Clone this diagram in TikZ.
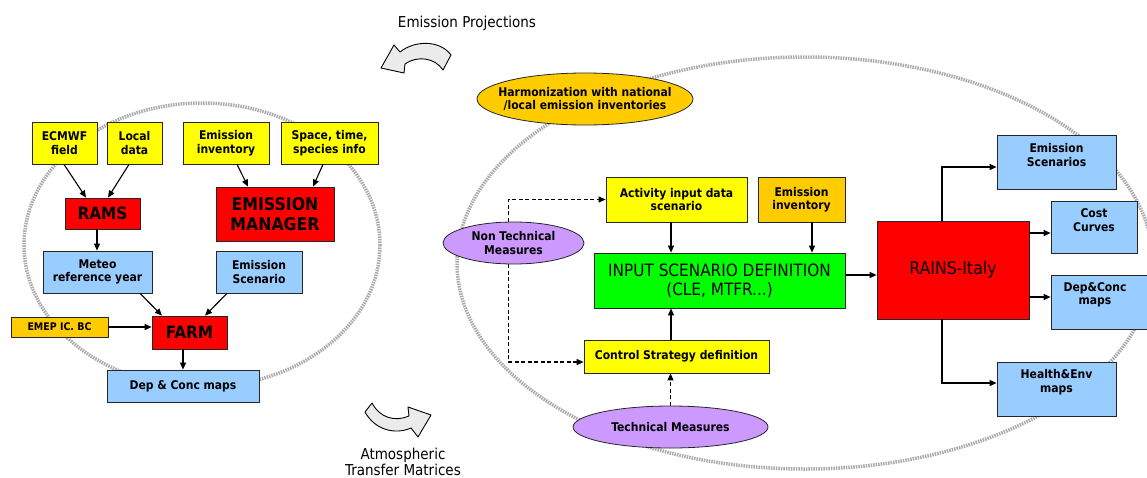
\documentclass[tikz,border=0pt]{standalone}
\usepackage{fontspec}
\setmainfont{DejaVu Sans Condensed}
\usetikzlibrary{arrows.meta,shapes.geometric,calc}
\definecolor{yel}{HTML}{FFFF00}
\definecolor{redb}{HTML}{FF0000}
\definecolor{blu}{HTML}{99CCFF}
\definecolor{gold}{HTML}{FFCC00}
\definecolor{grn}{HTML}{00FF00}
\definecolor{lil}{HTML}{CC99FF}
\begin{document}
\begin{tikzpicture}[x=1pt,y=-1pt,
  box/.style={draw=black!85, line width=0.8pt, inner sep=1pt, align=center, font=\fontsize{12}{13.5}\selectfont\bfseries},
  txt/.style={inner sep=0pt, align=center, font=\fontsize{12}{13.5}\selectfont\bfseries},
  ell/.style={ellipse, draw=black!85, line width=0.8pt, inner sep=0pt, align=center, font=\fontsize{12}{13.5}\selectfont\bfseries},
  big/.style={font=\fontsize{17}{20}\selectfont\bfseries},
  arr/.style={line width=1.1pt, -{Triangle[length=7pt,width=6pt]}},
  darr/.style={arr, dash pattern=on 4pt off 2.5pt},
  ring/.style={draw=black!33, line width=3.5pt, dash pattern=on 1.5pt off 1pt},
  bent/.style={draw=black, fill=black!8, line width=0.9pt, line join=round},
  lbl/.style={font=\fontsize{15}{16}\selectfont, align=center}
]
\useasboundingbox (0,0) rectangle (1147,477);
\fill[white] (0,0) rectangle (1147,477);

% rings
\draw[ring] (202,245) ellipse [x radius=178, y radius=142];
\draw[ring] (805,263) ellipse [x radius=348, y radius=206];

% curved arrows and labels
\node[lbl] (ep) at (467,23) {Emission Projections};
\draw[bent] (451,55) .. controls (440,40) and (415,40) .. (400,52) -- (394,45) -- (381,68) -- (404,73) -- (405,64) .. controls (418,55) and (435,58) .. (443,70) -- cycle;
\draw[bent] (365,412) .. controls (375,430) and (395,435) .. (411,428) -- (418,437) -- (431,415) -- (408,407) -- (409,416) .. controls (395,422) and (380,418) .. (372,403) -- cycle;
\node[lbl] (atm) at (403,462) {Atmospheric\\Transfer Matrices};

% left part
\node[box, fill=yel, minimum width=65, minimum height=42] (ecmwf) at (64.5,143) {ECMWF\\field};
\node[box, fill=yel, minimum width=55, minimum height=42] (local) at (134.5,143) {Local\\data};
\node[box, fill=yel, minimum width=86, minimum height=42] (einv) at (226,143) {Emission\\inventory};
\node[box, fill=yel, minimum width=97, minimum height=42] (space) at (329.5,143) {Space, time,\\species info};
\node[box, big, fill=redb, minimum width=75, minimum height=31] (rams) at (102.5,213.5) {RAMS};
\node[box, fill=redb, minimum width=118, minimum height=54, font=\fontsize{17.5}{20}\selectfont\bfseries] (em) at (275,214) {EMISSION\\MANAGER};
\node[box, fill=blu, minimum width=109, minimum height=42] (meteo) at (97.5,272) {Meteo\\reference year};
\node[box, fill=blu, minimum width=86, minimum height=42] (escen) at (259,272) {Emission\\Scenario};
\node[box, fill=gold, minimum width=97, minimum height=20, font=\fontsize{10.5}{12}\selectfont\bfseries] (emep) at (59.5,327) {EMEP IC. BC};
\node[box, big, fill=redb, minimum width=75, minimum height=33] (farm) at (189.5,332.5) {FARM};
\node[box, fill=blu, minimum width=152, minimum height=32] (dep) at (183,386) {Dep \& Conc maps};

\draw[arr] ([xshift=-0.5]ecmwf.south) -- ([xshift=-16.5]rams.north);
\draw[arr] ([xshift=-5.5]local.south) -- ([xshift=5.5]rams.north);
\draw[arr] ([xshift=11]einv.south) -- ([xshift=-27]em.north);
\draw[arr] ([xshift=-6.5]space.south) -- ([xshift=38]em.north);
\draw[arr] ([xshift=-5.5]rams.south) -- ([xshift=-0.5]meteo.north);
\draw[arr] ([xshift=42.5]meteo.south) -- ([xshift=-27.5]farm.north);
\draw[arr] ([xshift=-32]escen.south) -- ([xshift=15.5]farm.north);
\draw[arr] (emep.east) -- (emep.east -| farm.west);
\draw[arr] ([xshift=-6.5]farm.south) -- ([xshift=-6.5]farm.south |- dep.north);

% right part
\node[ell, fill=gold, minimum width=216, minimum height=52, inner xsep=-18pt] (harm) at (585,99) {Harmonization with national\\/local emission inventories};
\node[box, fill=yel, minimum width=141, minimum height=45] (act) at (676.5,199.5) {Activity input data\\scenario};
\node[box, fill=gold, minimum width=87, minimum height=45] (einv2) at (801.5,199.5) {Emission\\inventory};
\node[box, fill=grn, minimum width=251, minimum height=55, font=\fontsize{17}{19}\selectfont] (inp) at (719.5,280.5) {INPUT SCENARIO DEFINITION\\(CLE, MTFR...)};
\node[ell, fill=lil, minimum width=141, minimum height=42] (nt) at (513.5,243) {Non Technical\\Measures};
\node[box, fill=yel, minimum width=185, minimum height=33] (ctrl) at (676.5,356.5) {Control Strategy definition};
\node[ell, fill=lil, minimum width=195, minimum height=42] (tech) at (670.5,427) {Technical Measures};
\node[box, fill=redb, minimum width=152, minimum height=98, font=\fontsize{17.5}{20}\selectfont] (rains) at (953,270) {RAINS-Italy};
\node[box, fill=blu, minimum width=119, minimum height=54] (es2) at (1056.5,162) {};
\node[txt] (es2t) at ([yshift=7]es2.center) {Emission\\Scenarios};
\node[box, fill=blu, minimum width=86, minimum height=52] (cost) at (1094,227) {};
\node[txt] (costt) at ([yshift=7]cost.center) {Cost\\Curves};
\node[box, fill=blu, minimum width=98, minimum height=54] (depc) at (1100,302) {};
\node[txt] (depct) at ([yshift=7,xshift=-5]depc.center) {Dep\&Conc\\maps};
\node[box, fill=blu, minimum width=119, minimum height=54] (hea) at (1056.5,389) {};
\node[txt] (heat) at ([yshift=7]hea.center) {Health\&Env\\maps};

\draw[darr] ([xshift=-5]nt.north) |- (act.west);
\draw[darr] ([xshift=-5]nt.south) |- ([yshift=-5.5]ctrl.west);
\draw[arr] ([xshift=-5.5]act.south) -- ([xshift=-5.5]act.south |- inp.north);
\draw[arr] ([xshift=10.5]einv2.south) -- ([xshift=10.5]einv2.south |- inp.north);
\draw[arr] ([xshift=-5.5]ctrl.north) -- ([xshift=-5.5]ctrl.north |- inp.south);
\draw[darr] (tech.north) -- (tech.north |- ctrl.south);
\draw[arr] ([yshift=5.5]inp.east) -- ([yshift=5.5]inp.east -| rains.west);
\draw[arr] ([xshift=-11]rains.north) |- ([yshift=-5]es2.west);
\draw[arr] ([xshift=-11]rains.south) |- ([yshift=6]hea.west);
\draw[arr] ([yshift=-6]cost.west -| rains.east) -- ([yshift=-6]cost.west);
\draw[arr] ([yshift=5]depc.west -| rains.east) -- ([yshift=5]depc.west);
\end{tikzpicture}
\end{document}
